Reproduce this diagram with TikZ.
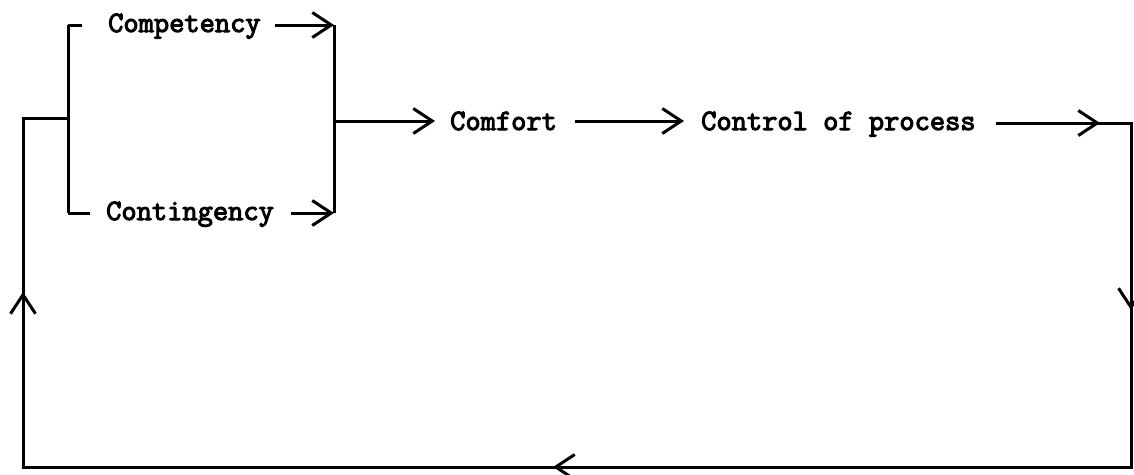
\documentclass[tikz,border=0pt]{standalone}
\usepackage{fontspec}
\newfontfamily\boldtt{Latin Modern Mono}[FakeBold=3.5]
\usetikzlibrary{arrows.meta,decorations.markings}
\tikzset{
  barb/.tip={Straight Barb[length=19pt,width=25pt]},
  ln/.style={line width=3pt, line join=miter},
  lbl/.style={inner sep=0pt, anchor=base west, font=\fontsize{29.6}{34}\selectfont\boldtt},
}
\begin{document}
\begin{tikzpicture}[x=1pt,y=-1pt]
\useasboundingbox (0,0) rectangle (1134,474);
\clip (0,0) rectangle (1134,474);
% text nodes
\node[lbl] (comp) at (108,32) {Competency};
\node[lbl] (cont) at (106,220) {Contingency};
\node[lbl] (comf) at (450,130) {Comfort};
\node[lbl] (ctrl) at (701,130) {Control of process};
% junction coordinates
\coordinate (jl) at (68,118);
\coordinate (jt) at (68,25);
\coordinate (jb) at (68,213);
\coordinate (rt) at (334,25);
\coordinate (rb) at (334,213);
\coordinate (rm) at (334,121);
\coordinate (c1) at (1131,123);
\coordinate (c2) at (1131,467);
\coordinate (c3) at (23,467);
\coordinate (c4) at (23,118);
% left bracket
\draw[ln] (jt) -- (jb);
\draw[ln, shorten >=26pt] (jt) -- (comp.west |- jt);
\draw[ln, shorten >=16pt] (jb) -- (cont.west |- jb);
% right bracket
\draw[ln] (rt) -- (rb);
\draw[ln, -barb, shorten <=14pt] (comp.east |- rt) -- (rt);
\draw[ln, -barb, shorten <=17pt] (cont.east |- rb) -- (rb);
% main chain
\draw[ln, -barb, shorten >=15pt] (rm) -- (comf.west |- rm);
\draw[ln, -barb, shorten <=18pt, shorten >=17pt] (comf.east |- rm) -- (ctrl.west |- rm);
% feedback loop
\draw[ln, shorten <=20pt,
  postaction={decorate, decoration={markings,
    mark=at position -1877pt with {\arrow{barb}},
    mark=at position -1659pt with {\arrow{barb}},
    mark=at position -924pt with {\arrow{barb}},
    mark=at position -219pt with {\arrow{barb}}}}]
  (ctrl.east |- c1) -- (c1) -- (c2) -- (c3) -- (c4) -- (jl);
\end{tikzpicture}
\end{document}
